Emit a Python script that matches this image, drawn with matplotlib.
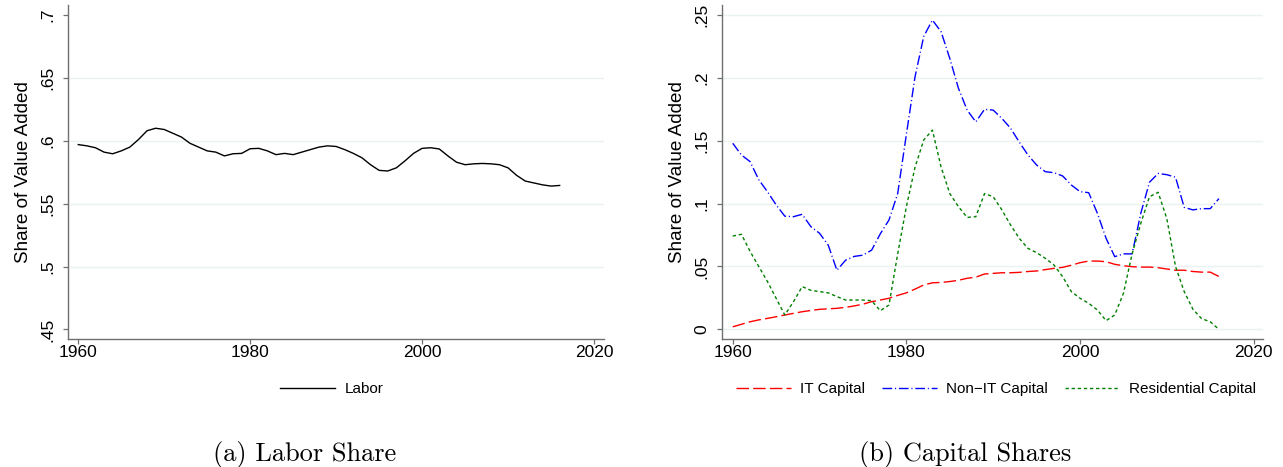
import matplotlib
matplotlib.use("Agg")
import matplotlib.pyplot as plt

plt.rcParams['font.family'] = ['Liberation Sans', 'DejaVu Sans']

years = list(range(1960, 2017))

labor = [0.597, 0.596, 0.5945, 0.591, 0.5897, 0.592, 0.595, 0.601, 0.608, 0.610,
         0.609, 0.606, 0.603, 0.598, 0.595, 0.592, 0.591, 0.588, 0.5897, 0.590,
         0.5937, 0.594, 0.592, 0.589, 0.590, 0.589, 0.591, 0.593, 0.595, 0.596,
         0.5955, 0.593, 0.590, 0.5865, 0.581, 0.5765, 0.576, 0.5785, 0.584, 0.590,
         0.594, 0.5945, 0.5935, 0.588, 0.583, 0.581, 0.5817, 0.582, 0.5817, 0.581,
         0.5785, 0.5725, 0.568, 0.5665, 0.565, 0.564, 0.5645]

it_capital = [0.002, 0.004, 0.006, 0.0075, 0.0087, 0.010, 0.0114, 0.0127, 0.014, 0.015,
              0.0159, 0.0163, 0.0167, 0.0175, 0.0186, 0.020, 0.022, 0.0233, 0.0247, 0.027,
              0.029, 0.032, 0.0353, 0.037, 0.0373, 0.038, 0.039, 0.0406, 0.0415, 0.044,
              0.0445, 0.045, 0.045, 0.0453, 0.046, 0.0464, 0.0475, 0.0485, 0.0493, 0.051,
              0.053, 0.0543, 0.0543, 0.0538, 0.0517, 0.0506, 0.0498, 0.0495, 0.0495, 0.049,
              0.048, 0.047, 0.047, 0.046, 0.0455, 0.0455, 0.042]

non_it_capital = [0.148, 0.1387, 0.1334, 0.119, 0.1095, 0.099, 0.090, 0.0896, 0.0915, 0.0817,
                  0.0764, 0.067, 0.047, 0.055, 0.058, 0.059, 0.063, 0.076, 0.087, 0.108,
                  0.155, 0.201, 0.233, 0.246, 0.2367, 0.2155, 0.1917, 0.1744, 0.165, 0.175,
                  0.1744, 0.1678, 0.160, 0.149, 0.1387, 0.1307, 0.1254, 0.1246, 0.122, 0.1148,
                  0.1095, 0.1087, 0.0923, 0.0724, 0.0578, 0.060, 0.060, 0.0923, 0.117, 0.124,
                  0.123, 0.121, 0.097, 0.095, 0.096, 0.096, 0.104]

residential_capital = [0.0742, 0.0756, 0.062, 0.050, 0.038, 0.0247, 0.0114, 0.022, 0.034, 0.031,
                       0.030, 0.029, 0.026, 0.0233, 0.0233, 0.0233, 0.0228, 0.0148, 0.0194, 0.060,
                       0.0976, 0.129, 0.1506, 0.1585, 0.129, 0.108, 0.0976, 0.089, 0.0896, 0.108,
                       0.1055, 0.095, 0.083, 0.0724, 0.0644, 0.061, 0.0565, 0.0512, 0.0419, 0.030,
                       0.0247, 0.0207, 0.0154, 0.0069, 0.0114, 0.0286, 0.060, 0.0843, 0.1055, 0.109,
                       0.088, 0.050, 0.030, 0.016, 0.0085, 0.006, 0.000]

left_yticks = [0.45, 0.5, 0.55, 0.6, 0.65, 0.7]
left_yticklabels = ['.45', '.5', '.55', '.6', '.65', '.7']
right_yticks = [0, 0.05, 0.1, 0.15, 0.2, 0.25]
right_yticklabels = ['0', '.05', '.1', '.15', '.2', '.25']
xticks = [1960, 1980, 2000, 2020]
xticklabels = ['1960', '1980', '2000', '2020']

W, H = 1283, 467
fig = plt.figure(figsize=(W / 100, H / 100), dpi=100)

axL = fig.add_axes([68.3 / W, (H - 339) / H, (604 - 68.3) / W, 334 / H])
axR = fig.add_axes([722.3 / W, (H - 339) / H, (1262.7 - 722.3) / W, 334 / H])

grid_c = '#EAF2F3'
axis_c = '#707070'

def style(ax, yticks, ylabels, ylim, xlim, grid_vals):
    ax.set_xlim(*xlim)
    ax.set_ylim(*ylim)
    for v in grid_vals:
        ax.axhline(v, color=grid_c, lw=1.0, zorder=0)
    ax.set_yticks(yticks)
    ax.set_yticklabels(ylabels)
    ax.set_xticks(xticks)
    ax.set_xticklabels(xticklabels)
    for s in ['top', 'right']:
        ax.spines[s].set_visible(False)
    for s in ['left', 'bottom']:
        ax.spines[s].set_color(axis_c)
        ax.spines[s].set_linewidth(1.0)
    ax.tick_params(axis='both', direction='out', length=3.6, width=0.9,
                   color=axis_c, labelsize=12.5, labelcolor='black')
    ax.tick_params(axis='y', labelrotation=90, pad=5.8)
    ax.tick_params(axis='x', pad=1)
    for lab in ax.get_yticklabels():
        lab.set_va('center')
    ax.set_ylabel('Share of Value Added', fontsize=13.6, labelpad=6)

style(axL, left_yticks, left_yticklabels, (0.4424, 0.708), (1958.84, 2021.16),
      left_yticks[1:-1])
style(axR, right_yticks, right_yticklabels, (-0.0077, 0.258), (1958.8, 2021.04),
      right_yticks)

axL.plot(years, labor, color='black', lw=1.0, label='Labor')

axR.plot(years, it_capital, color='#FF0000', lw=1.0, linestyle=(0, (9, 3)),
         label='IT Capital')
axR.plot(years, non_it_capital, color='#0000FF', lw=1.0,
         linestyle=(0, (7, 2, 0.8, 2)), label='Non\u2212IT Capital')
axR.plot(years, residential_capital, color='#008000', lw=1.0,
         linestyle=(0, (2.4, 2)), label='Residential Capital')

legkw = dict(loc='center', frameon=False, fontsize=11, handlelength=3.6,
             handletextpad=0.6, columnspacing=1.1, borderpad=0,
             bbox_transform=fig.transFigure)
axL.legend(bbox_to_anchor=(332 / W, (H - 389) / H), ncol=1, **legkw)
axR.legend(bbox_to_anchor=(996 / W, (H - 389) / H), ncol=3, **legkw)

fig.text(305 / W, 12 / H, '(a) Labor Share', family='cmr10', fontsize=19,
         ha='center', va='center')
fig.text(965 / W, 12 / H, '(b) Capital Shares', family='cmr10', fontsize=19,
         ha='center', va='center')

fig.savefig('out.png', dpi=100)
